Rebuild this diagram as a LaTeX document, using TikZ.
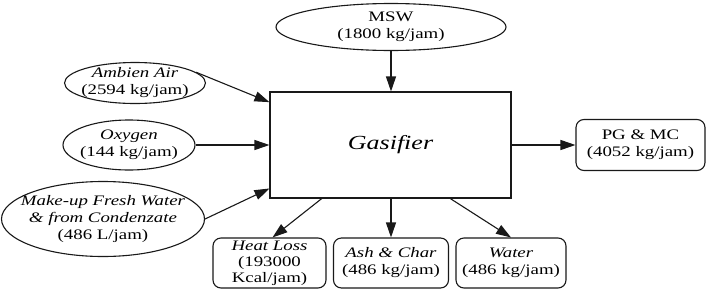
\documentclass[tikz,border=0pt]{standalone}
\usepackage{fontspec}
\setmainfont{Liberation Serif}[FakeStretch=1.3]
\usetikzlibrary{shapes.geometric,arrows.meta,calc}
\begin{document}
\begin{tikzpicture}[x=1pt,y=-1pt,
  ell/.style={draw=black!90,ellipse,line width=1.1pt,inner sep=0pt},
  rbox/.style={draw=black!90,rounded corners=8pt,line width=1.1pt,inner sep=0pt,align=center,font=\rmfamily\fontsize{14.5}{17}\selectfont},
  lbl/.style={align=center,font=\rmfamily\fontsize{14.5}{17}\selectfont,inner sep=0pt},
  arr/.style={-{Triangle[length=15pt,width=10pt]},line width=1.1pt,draw=black!90}]
\useasboundingbox[fill=white] (0,0) rectangle (706,295);
% source ellipses
\node[ell,minimum width=230pt,minimum height=47pt,label={[lbl]center:{MSW\\(1800 kg/jam)}}] (msw) at (391,27) {};
\node[ell,minimum width=141pt,minimum height=41pt,label={[lbl]center:{\itshape Ambien Air\\(2594 kg/jam)}}] (air) at (135,83) {};
\node[ell,minimum width=132pt,minimum height=50pt,label={[lbl]center:{\itshape Oxygen\\(144 kg/jam)}}] (oxy) at (129,145) {};
\node[ell,minimum width=203pt,minimum height=75pt,label={[lbl]center:{\itshape Make-up Fresh Water\\\itshape \& from Condenzate\\(486 L/jam)}}] (mk) at (103,219) {};
% gasifier
\node[draw=black!90,line width=1.1pt,minimum width=241pt,minimum height=106pt,inner sep=0pt,font=\rmfamily\fontsize{20}{24}\selectfont\itshape] (g) at (390.5,145) {Gasifier};
% products
\node[rbox,minimum width=129pt,minimum height=51pt] (pg) at (640.5,145) {PG \& MC\\(4052 kg/jam)};
\node[rbox,minimum width=113pt,minimum height=50pt,font=\rmfamily\fontsize{14.5}{16}\selectfont] (hl) at (269.5,263) {\itshape Heat Loss\\(193000\\Kcal/jam)};
\node[rbox,minimum width=115pt,minimum height=50pt] (ash) at (391,263) {\itshape Ash \& Char\\(486 kg/jam)};
\node[rbox,minimum width=110pt,minimum height=50pt] (wat) at (511,263) {\itshape Water\\(486 kg/jam)};
% attachment points on the gasifier
\coordinate (gw1) at ($(g.north west)!0.10!(g.south west)$);
\coordinate (gw3) at ($(g.north west)!0.906!(g.south west)$);
\coordinate (gs1) at ($(g.south west)!0.216!(g.south east)$);
\coordinate (gs3) at ($(g.south west)!0.747!(g.south east)$);
% connectors
\draw[arr] (air.10) -- (gw1);
\draw[arr] (oxy.east) -- (oxy.east -| g.west);
\draw[arr] (mk.east) -- (gw3);
\draw[arr] (msw.south) -- (msw.south |- g.north);
\draw[arr] (g.east) -- (pg.west);
\draw[arr] (gs1) -- ($(hl.north)+(3,0)$);
\draw[arr] (ash.north |- g.south) -- (ash.north);
\draw[arr] (gs3) -- (wat.north);
\end{tikzpicture}
\end{document}
